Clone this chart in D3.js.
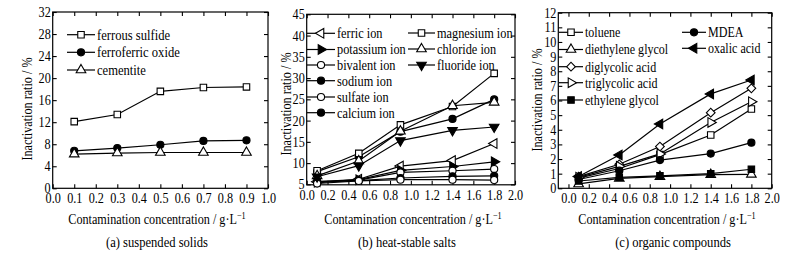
<!DOCTYPE html>
<html>
<head>
<meta charset="utf-8">
<script src="https://cdn.jsdelivr.net/npm/d3@7"></script>
<style>
  body { margin: 0; background: #fff; }
  svg text { font-family: "Liberation Serif", "DejaVu Serif", serif; fill: #000; }
</style>
</head>
<body>
<div id="chart"></div>
<script>
// (a) suspended solids
var xA = [0.1, 0.3, 0.5, 0.7, 0.9];
var ferrousSulfide = [12.1, 13.4, 17.6, 18.3, 18.4];
var ferroferricOxide = [6.8, 7.3, 7.9, 8.6, 8.7];
var cementite = [6.2, 6.4, 6.5, 6.5, 6.5];

// (b) heat-stable salts
var xB = [0.1, 0.5, 0.9, 1.4, 1.8];
var ferricIon = [5.6, 6.2, 9.3, 10.6, 14.6];
var potassiumIon = [5.5, 6.1, 8.3, 9.2, 10.3];
var bivalentIon = [5.4, 6.0, 7.8, 8.2, 8.6];
var sodiumIon = [5.7, 5.9, 6.5, 6.9, 7.0];
var sulfateIon = [5.2, 5.8, 6.1, 6.1, 6.0];
var calciumIon = [8.0, 11.5, 17.4, 20.4, 25.0];
var magnesiumIon = [8.2, 12.3, 19.0, 23.3, 31.1];
var chlorideIon = [7.0, 10.5, 17.5, 23.5, 24.3];
var fluorideIon = [6.8, 9.4, 15.3, 17.7, 18.5];

// (c) organic compounds
var xC = [0.1, 0.5, 0.9, 1.4, 1.8];
var toluene = [0.7, 1.35, 2.3, 3.64, 5.42];
var diethyleneGlycol = [0.3, 0.68, 0.8, 0.93, 0.95];
var diglycolicAcid = [0.8, 1.64, 2.85, 5.17, 6.83];
var triglycolicAcid = [0.75, 1.5, 2.35, 4.5, 5.92];
var ethyleneGlycol = [0.5, 0.75, 0.85, 1.0, 1.3];
var mdea = [0.6, 1.2, 1.93, 2.37, 3.12];
var oxalicAcid = [0.8, 2.28, 4.4, 6.45, 7.4];

var ticksA = { x: d3.range(0, 1.01, 0.1), y: d3.range(0, 33, 4) };
var ticksB = { x: d3.range(0, 2.01, 0.2), y: d3.range(5, 46, 5) };
var ticksC = { x: d3.range(0, 2.01, 0.2), y: d3.range(0, 13, 1) };

var FONT = "Liberation Serif";
var SX = 0.87; // the scanned figure uses a narrow Times face

var svg = d3.select("#chart").append("svg")
    .attr("width", 799)
    .attr("height", 259);

// marker shapes
function markerPath(kind) {
    if (kind == "circle") return { d: d3.symbol(d3.symbolCircle, 40)(), rot: 0 };
    if (kind == "square") return { d: d3.symbol(d3.symbolSquare, 42)(), rot: 0 };
    if (kind == "diamond") return { d: d3.symbol(d3.symbolSquare, 38)(), rot: 45 };
    if (kind == "up") return { d: d3.symbol(d3.symbolTriangle, 40)(), rot: 0 };
    if (kind == "down") return { d: d3.symbol(d3.symbolTriangle, 40)(), rot: 180 };
    if (kind == "left") return { d: d3.symbol(d3.symbolTriangle, 40)(), rot: -90 };
    if (kind == "right") return { d: d3.symbol(d3.symbolTriangle, 40)(), rot: 90 };
}

function drawMarker(g, x, y, kind, filled) {
    var m = markerPath(kind);
    g.append("path")
        .attr("d", m.d)
        .attr("transform", "translate(" + x + "," + y + ") rotate(" + m.rot + ")")
        .attr("fill", filled ? "#000" : "#fff")
        .attr("stroke", "#000")
        .attr("stroke-width", 1.1);
}

// text placed at (x,y), squeezed horizontally along its baseline
function addText(g, x, y, size, sx, rot) {
    return g.append("text")
        .attr("transform", "translate(" + x + "," + y + ")" + (rot ? " rotate(" + rot + ")" : "") + " scale(" + sx + ",1)")
        .style("font-family", FONT)
        .style("font-size", size + "px");
}

function drawPanel(p) {
    var x = d3.scaleLinear().domain(p.xDomain).range([p.left, p.right]);
    var y = d3.scaleLinear().domain(p.yDomain).range([p.bottom, p.top]);
    var g = svg.append("g");

    // frame
    g.append("rect")
        .attr("x", p.left).attr("y", p.top)
        .attr("width", p.right - p.left).attr("height", p.bottom - p.top)
        .attr("fill", "none").attr("stroke", "#000").attr("stroke-width", 1.2);

    // axes, ticks pointing inward on all four sides
    var bottomAxis = g.append("g")
        .attr("transform", "translate(0," + p.bottom + ")")
        .call(d3.axisBottom(x).tickValues(p.ticks.x).tickSizeInner(-4).tickSizeOuter(0).tickPadding(5).tickFormat(d3.format(".1f")))
        .call(function (a) { a.select(".domain").remove(); });
    g.append("g")
        .attr("transform", "translate(0," + p.top + ")")
        .call(d3.axisTop(x).tickValues(p.ticks.x).tickSizeInner(-4).tickSizeOuter(0).tickFormat(""))
        .call(function (a) { a.select(".domain").remove(); });
    var leftAxis = g.append("g")
        .attr("transform", "translate(" + p.left + ",0)")
        .call(d3.axisLeft(y).tickValues(p.ticks.y).tickSizeInner(-4).tickSizeOuter(0).tickPadding(2).tickFormat(d3.format("d")))
        .call(function (a) { a.select(".domain").remove(); });
    g.append("g")
        .attr("transform", "translate(" + p.right + ",0)")
        .call(d3.axisRight(y).tickValues(p.ticks.y).tickSizeInner(-4).tickSizeOuter(0).tickFormat(""))
        .call(function (a) { a.select(".domain").remove(); });
    g.selectAll("g").attr("font-family", null).attr("font-size", null);
    g.selectAll(".tick text")
        .style("font-family", FONT)
        .style("font-size", "14px");
    bottomAxis.selectAll(".tick text").attr("transform", "scale(" + SX + ",1)");
    leftAxis.selectAll(".tick text")
        .attr("x", -2 / SX)
        .attr("transform", "scale(" + SX + ",1)");
    g.selectAll(".tick line").attr("stroke-width", 1.1);

    // series
    var line = d3.line()
        .x(function (d) { return x(d[0]); })
        .y(function (d) { return y(d[1]); });
    p.series.forEach(function (s) {
        var pts = p.xs.map(function (v, i) { return [v, s.values[i]]; });
        g.append("path")
            .attr("d", line(pts))
            .attr("fill", "none")
            .attr("stroke", "#000")
            .attr("stroke-width", 1.2);
    });
    p.series.forEach(function (s) {
        p.xs.forEach(function (v, i) {
            drawMarker(g, x(v), y(s.values[i]), s.marker, s.filled);
        });
    });

    // legend
    p.series.forEach(function (s) {
        var L = s.legend;
        g.append("line")
            .attr("x1", L.x1).attr("x2", L.x2)
            .attr("y1", L.y).attr("y2", L.y)
            .attr("stroke", "#000").attr("stroke-width", 1.2);
        drawMarker(g, (L.x1 + L.x2) / 2, L.y, s.marker, s.filled);
        addText(g, L.x2 + 2, L.y + 4.8, 14, p.legendSx).text(s.name);
    });

    // axis titles
    var xt = addText(g, p.xTitleX, 224, 14, SX).attr("text-anchor", "middle");
    xt.append("tspan").text("Contamination concentration / g\u00b7L");
    xt.append("tspan").attr("dy", -5).style("font-size", "9.5px").text("\u22121");

    addText(g, p.yTitleX, p.yTitleY, 14, SX, -90)
        .attr("text-anchor", "middle")
        .text("Inactivation ratio / %");

    addText(g, p.captionX, 247, 14, 0.9)
        .attr("text-anchor", "middle")
        .text(p.caption);
}

drawPanel({
    left: 52.7, right: 268, top: 12, bottom: 188.3,
    xDomain: [0, 1], yDomain: [0, 32], ticks: ticksA, xs: xA,
    legendSx: 0.9,
    xTitleX: 157, yTitleX: 32, yTitleY: 109, captionX: 157,
    caption: "(a) suspended solids",
    series: [
        { name: "ferrous sulfide", values: ferrousSulfide, marker: "square", filled: false, legend: { x1: 67, x2: 95, y: 34.7 } },
        { name: "ferroferric oxide", values: ferroferricOxide, marker: "circle", filled: true, legend: { x1: 67, x2: 95, y: 52.3 } },
        { name: "cementite", values: cementite, marker: "up", filled: false, legend: { x1: 67, x2: 95, y: 70 } }
    ]
});

drawPanel({
    left: 306.7, right: 515, top: 14.3, bottom: 184.8,
    xDomain: [0, 2], yDomain: [4.9, 45], ticks: ticksB, xs: xB,
    legendSx: 0.88,
    xTitleX: 413, yTitleX: 290.5, yTitleY: 104, captionX: 407,
    caption: "(b) heat-stable salts",
    series: [
        { name: "ferric ion", values: ferricIon, marker: "left", filled: false, legend: { x1: 307, x2: 335, y: 33.3 } },
        { name: "potassium ion", values: potassiumIon, marker: "right", filled: true, legend: { x1: 307, x2: 335, y: 49.5 } },
        { name: "bivalent ion", values: bivalentIon, marker: "circle", filled: false, legend: { x1: 307, x2: 335, y: 65 } },
        { name: "sodium ion", values: sodiumIon, marker: "circle", filled: true, legend: { x1: 307, x2: 335, y: 80.7 } },
        { name: "sulfate ion", values: sulfateIon, marker: "circle", filled: false, legend: { x1: 307, x2: 335, y: 97 } },
        { name: "calcium ion", values: calciumIon, marker: "circle", filled: true, legend: { x1: 307, x2: 335, y: 112.7 } },
        { name: "magnesium ion", values: magnesiumIon, marker: "square", filled: false, legend: { x1: 408, x2: 435, y: 33 } },
        { name: "chloride ion", values: chlorideIon, marker: "up", filled: false, legend: { x1: 408, x2: 435, y: 49 } },
        { name: "fluoride ion", values: fluorideIon, marker: "down", filled: true, legend: { x1: 408, x2: 435, y: 65 } }
    ]
});

drawPanel({
    left: 558.3, right: 771.7, top: 12.7, bottom: 188.3,
    xDomain: [-0.1, 2], yDomain: [0, 12], ticks: ticksC, xs: xC,
    legendSx: 0.86,
    xTitleX: 667, yTitleX: 541.5, yTitleY: 100, captionX: 673,
    caption: "(c) organic compounds",
    series: [
        { name: "toluene", values: toluene, marker: "square", filled: false, legend: { x1: 559, x2: 583, y: 32.3 } },
        { name: "diethylene glycol", values: diethyleneGlycol, marker: "up", filled: false, legend: { x1: 559, x2: 583, y: 49.5 } },
        { name: "diglycolic acid", values: diglycolicAcid, marker: "diamond", filled: false, legend: { x1: 559, x2: 583, y: 66.7 } },
        { name: "triglycolic acid", values: triglycolicAcid, marker: "right", filled: false, legend: { x1: 559, x2: 583, y: 82.7 } },
        { name: "ethylene glycol", values: ethyleneGlycol, marker: "square", filled: true, legend: { x1: 559, x2: 583, y: 100 } },
        { name: "MDEA", values: mdea, marker: "circle", filled: true, legend: { x1: 682, x2: 706, y: 32.3 } },
        { name: "oxalic acid", values: oxalicAcid, marker: "left", filled: true, legend: { x1: 682, x2: 706, y: 48.3 } }
    ]
});
</script>
</body>
</html>
